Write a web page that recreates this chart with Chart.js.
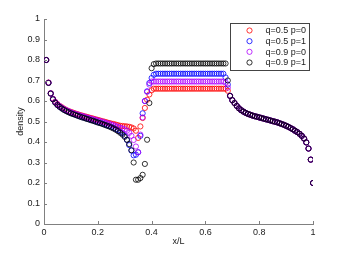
<!DOCTYPE html>
<html><head><meta charset="utf-8">
<script src="https://cdn.jsdelivr.net/npm/chart.js@4.4.1/dist/chart.umd.min.js"></script>
<style>html,body{margin:0;padding:0;background:#fff;overflow:hidden}</style>
</head><body>
<canvas id="c" width="346" height="253"></canvas>
<script>
const xPos = [
0.0083,0.0167,0.025,0.0333,0.0417,0.05,0.0583,0.0667,0.075,0.0833,0.0917,0.1,
0.1083,0.1167,0.125,0.1333,0.1417,0.15,0.1583,0.1667,0.175,0.1833,0.1917,0.2,
0.2083,0.2167,0.225,0.2333,0.2417,0.25,0.2583,0.2667,0.275,0.2833,0.2917,0.3,
0.3083,0.3167,0.325,0.3333,0.3417,0.35,0.3583,0.3667,0.375,0.3833,0.3917,0.4,
0.4083,0.4167,0.425,0.4333,0.4417,0.45,0.4583,0.4667,0.475,0.4833,0.4917,0.5,
0.5083,0.5167,0.525,0.5333,0.5417,0.55,0.5583,0.5667,0.575,0.5833,0.5917,0.6,
0.6083,0.6167,0.625,0.6333,0.6417,0.65,0.6583,0.6667,0.675,0.6833,0.6917,0.7,
0.7083,0.7167,0.725,0.7333,0.7417,0.75,0.7583,0.7667,0.775,0.7833,0.7917,0.8,
0.8083,0.8167,0.825,0.8333,0.8417,0.85,0.8583,0.8667,0.875,0.8833,0.8917,0.9,
0.9083,0.9167,0.925,0.9333,0.9417,0.95,0.9583,0.9667,0.975,0.9833,0.9917,1.0];

const seriesLabels = ['q=0.5 p=0','q=0.5 p=1','q=0.9 p=0','q=0.9 p=1'];
const seriesColors = ['#ff0000','#0000ff','#b000ff','#000000'];

const rhoQ05P0 = [
0.80,0.69,0.638,0.611,0.596,0.585,0.576,0.569,0.562,0.556,
0.551,0.547,0.543,0.539,0.536,0.532,0.529,0.526,0.523,0.52,
0.517,0.514,0.511,0.508,0.505,0.502,0.499,0.496,0.493,0.49,
0.488,0.485,0.482,0.479,0.478,0.477,0.476,0.474,0.471,0.466,
0.455,0.42,0.476,0.517,0.566,0.606,0.632,0.652,0.66,0.66,
0.66,0.66,0.66,0.66,0.66,0.66,0.66,0.66,0.66,0.66,
0.66,0.66,0.66,0.66,0.66,0.66,0.66,0.66,0.66,0.66,
0.66,0.66,0.66,0.66,0.66,0.66,0.66,0.66,0.66,0.66,
0.66,0.65,0.625,0.604,0.59,0.576,0.564,0.555,0.548,0.542,
0.537,0.533,0.529,0.526,0.523,0.52,0.517,0.514,0.511,0.508,
0.505,0.502,0.499,0.496,0.492,0.488,0.484,0.479,0.474,0.468,
0.462,0.455,0.448,0.44,0.43,0.417,0.398,0.368,0.314,0.2];

const rhoQ05P1 = [
0.80,0.689,0.637,0.609,0.593,0.581,0.572,0.564,0.557,0.551,
0.546,0.541,0.537,0.533,0.529,0.525,0.521,0.518,0.514,0.511,
0.507,0.504,0.5,0.497,0.493,0.49,0.486,0.482,0.478,0.474,
0.469,0.463,0.457,0.45,0.442,0.43,0.41,0.385,0.358,0.335,
0.338,0.35,0.43,0.54,0.6,0.647,0.688,0.712,0.728,0.733,
0.733,0.733,0.733,0.733,0.733,0.733,0.733,0.733,0.733,0.733,
0.733,0.733,0.733,0.733,0.733,0.733,0.733,0.733,0.733,0.733,
0.733,0.733,0.733,0.733,0.733,0.733,0.733,0.733,0.733,0.733,
0.715,0.68,0.625,0.604,0.59,0.576,0.564,0.555,0.548,0.542,
0.537,0.533,0.529,0.526,0.523,0.52,0.517,0.514,0.511,0.508,
0.505,0.502,0.499,0.496,0.492,0.488,0.484,0.479,0.474,0.468,
0.462,0.455,0.448,0.44,0.43,0.417,0.398,0.368,0.314,0.2];

const rhoQ09P0 = [
0.80,0.689,0.637,0.61,0.595,0.584,0.575,0.567,0.56,0.555,
0.55,0.545,0.541,0.537,0.534,0.53,0.527,0.524,0.52,0.517,
0.514,0.511,0.508,0.505,0.502,0.499,0.495,0.492,0.489,0.485,
0.482,0.478,0.474,0.47,0.466,0.462,0.455,0.445,0.43,0.41,
0.378,0.35,0.436,0.52,0.6,0.645,0.68,0.695,0.695,0.695,
0.695,0.695,0.695,0.695,0.695,0.695,0.695,0.695,0.695,0.695,
0.695,0.695,0.695,0.695,0.695,0.695,0.695,0.695,0.695,0.695,
0.695,0.695,0.695,0.695,0.695,0.695,0.695,0.695,0.695,0.695,
0.69,0.665,0.625,0.604,0.59,0.576,0.564,0.555,0.548,0.542,
0.537,0.533,0.529,0.526,0.523,0.52,0.517,0.514,0.511,0.508,
0.505,0.502,0.499,0.496,0.492,0.488,0.484,0.479,0.474,0.468,
0.462,0.455,0.448,0.44,0.43,0.417,0.398,0.368,0.314,0.2];

const rhoQ09P1 = [
0.80,0.688,0.636,0.608,0.592,0.58,0.571,0.563,0.556,0.55,
0.545,0.54,0.536,0.532,0.528,0.524,0.52,0.517,0.513,0.51,
0.506,0.503,0.499,0.495,0.492,0.488,0.484,0.48,0.476,0.471,
0.466,0.46,0.453,0.445,0.436,0.425,0.411,0.39,0.36,0.30,
0.216,0.216,0.224,0.24,0.293,0.411,0.59,0.76,0.78,0.783,
0.783,0.783,0.783,0.783,0.783,0.783,0.783,0.783,0.783,0.783,
0.783,0.783,0.783,0.783,0.783,0.783,0.783,0.783,0.783,0.783,
0.783,0.783,0.783,0.783,0.783,0.783,0.783,0.783,0.783,0.783,
0.783,0.70,0.625,0.604,0.59,0.576,0.564,0.555,0.548,0.542,
0.537,0.533,0.529,0.526,0.523,0.52,0.517,0.514,0.511,0.508,
0.505,0.502,0.499,0.496,0.492,0.488,0.484,0.479,0.474,0.468,
0.462,0.455,0.448,0.44,0.43,0.417,0.398,0.368,0.314,0.2];

const xTicks = [0,0.2,0.4,0.6,0.8,1];
const xTickLabels = ['0','0.2','0.4','0.6','0.8','1'];
const yTicks = [0,0.1,0.2,0.3,0.4,0.5,0.6,0.7,0.8,0.9,1];
const yTickLabels = ['0','0.1','0.2','0.3','0.4','0.5','0.6','0.7','0.8','0.9','1'];

const FONT = '"Liberation Sans", Arial, Helvetica, sans-serif';
const series = [rhoQ05P0, rhoQ05P1, rhoQ09P0, rhoQ09P1];

const innerTicks = {
  id: 'innerTicks',
  afterDraw(chart) {
    const {ctx, chartArea: a} = chart;
    const sx = chart.scales.x, sy = chart.scales.y;
    ctx.save();
    ctx.strokeStyle = '#808080';
    ctx.lineWidth = 1;
    ctx.beginPath();
    sx.ticks.forEach(t => {
      const px = Math.round(sx.getPixelForValue(t.value)) + 0.5;
      ctx.moveTo(px, a.bottom); ctx.lineTo(px, a.bottom - 3);
    });
    sy.ticks.forEach(t => {
      const py = Math.round(sy.getPixelForValue(t.value)) + 0.5;
      ctx.moveTo(a.left, py); ctx.lineTo(a.left + 3, py);
    });
    ctx.stroke();
    ctx.restore();
  }
};

const boxLegend = {
  id: 'boxLegend',
  afterDraw(chart) {
    const {ctx, chartArea: a} = chart;
    const w = 79, h = 47;
    const bx = Math.round(a.right - 83), by = Math.round(a.top + 4);
    ctx.save();
    ctx.fillStyle = '#fff';
    ctx.fillRect(bx, by, w, h);
    ctx.strokeStyle = '#444';
    ctx.lineWidth = 1;
    ctx.strokeRect(bx + 0.5, by + 0.5, w, h);
    ctx.font = '9px ' + FONT;
    ctx.textBaseline = 'middle';
    ctx.textAlign = 'left';
    chart.data.datasets.forEach((ds, i) => {
      const cy = by + 7.5 + i * 10.67;
      ctx.beginPath();
      ctx.arc(bx + 19.5, cy, 2.6, 0, Math.PI * 2);
      ctx.strokeStyle = ds.borderColor;
      ctx.lineWidth = 0.8;
      ctx.stroke();
      ctx.fillStyle = '#1a1a1a';
      ctx.fillText(ds.label, bx + 35.5, cy + 0.5);
    });
    ctx.restore();
  }
};

const datasets = series.map((vals, k) => ({
  label: seriesLabels[k],
  data: xPos.map((x, i) => ({x: x, y: vals[i]})),
  borderColor: seriesColors[k],
  backgroundColor: 'rgba(0,0,0,0)',
  pointStyle: 'circle',
  pointRadius: 2.6,
  pointBorderWidth: 0.8,
  pointBackgroundColor: 'rgba(0,0,0,0)',
  pointBorderColor: seriesColors[k],
  showLine: false,
  order: 4 - k
}));

new Chart(document.getElementById('c'), {
  type: 'scatter',
  data: { datasets },
  options: {
    responsive: false,
    animation: false,
    devicePixelRatio: 1,
    layout: { padding: { left: 0, right: 33, top: 19, bottom: 0 } },
    plugins: { legend: { display: false }, tooltip: { enabled: false } },
    scales: {
      x: {
        type: 'linear', min: 0, max: 1,
        afterBuildTicks: s => { s.ticks = xTicks.map(v => ({ value: v })); },
        afterFit: s => { s.height = 29; },
        ticks: {
          callback: v => xTickLabels[xTicks.indexOf(v)],
          font: { family: FONT, size: 9 }, color: '#222', padding: 3,
          maxRotation: 0, autoSkip: false
        },
        grid: { display: false, drawTicks: false },
        border: { display: true, color: '#808080', width: 1 },
        title: { display: true, text: 'x/L', font: { family: FONT, size: 9 }, color: '#222', padding: { top: 0, bottom: 6 } }
      },
      y: {
        type: 'linear', min: 0, max: 1,
        afterBuildTicks: s => { s.ticks = yTicks.map(v => ({ value: v })); },
        afterFit: s => { s.width = 44; },
        ticks: {
          callback: v => yTickLabels[yTicks.indexOf(v)],
          font: { family: FONT, size: 9 }, color: '#222', padding: 4, autoSkip: false
        },
        grid: { display: false, drawTicks: false },
        border: { display: true, color: '#808080', width: 1 },
        title: { display: true, text: 'density', font: { family: FONT, size: 9 }, color: '#222', padding: { top: 15, bottom: 0 } }
      }
    }
  },
  plugins: [innerTicks, boxLegend]
});
</script>
</body></html>
